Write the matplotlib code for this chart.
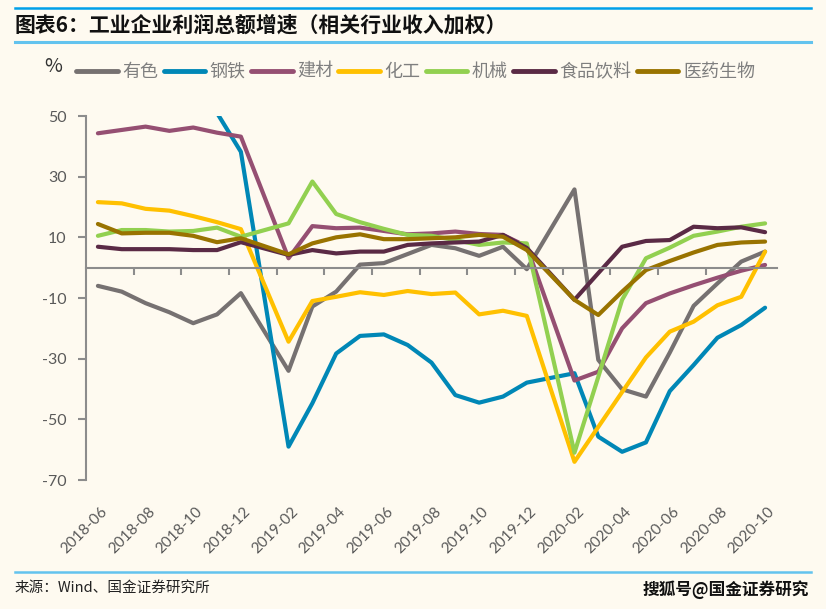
import matplotlib
matplotlib.use('Agg')
import matplotlib.pyplot as plt
import matplotlib.transforms as mtransforms
from matplotlib.lines import Line2D

plt.rcParams['font.family'] = ['Noto Sans CJK SC', 'DejaVu Sans']
plt.rcParams['axes.unicode_minus'] = False

# months with data (January figures are not published separately)
months = [
    '2018-06', '2018-07', '2018-08', '2018-09', '2018-10', '2018-11', '2018-12',
    '2019-02', '2019-03', '2019-04', '2019-05', '2019-06', '2019-07', '2019-08',
    '2019-09', '2019-10', '2019-11', '2019-12',
    '2020-02', '2020-03', '2020-04', '2020-05', '2020-06', '2020-07', '2020-08',
    '2020-09', '2020-10',
]

tick_labels = [
    '2018-06', '2018-08', '2018-10', '2018-12', '2019-02', '2019-04', '2019-06',
    '2019-08', '2019-10', '2019-12', '2020-02', '2020-04', '2020-06', '2020-08',
    '2020-10',
]

youse = [-6.0, -7.9, -11.7, -14.7, -18.3, -15.4, -8.4,
         -34.0, -12.8, -7.9, 1.0, 1.5, 4.5, 7.5, 6.4, 3.9, 6.9, -0.5,
         25.8, -30.4, -40.1, -42.5, -28.0, -12.6, -5.2, 2.0, 5.3]
gangtie = [95.0, 90.0, 85.0, 78.0, 68.0, 51.0, 38.2,
           -59.0, -44.7, -28.3, -22.5, -22.0, -25.5, -31.3, -42.0, -44.5, -42.5, -37.9,
           -34.8, -55.7, -60.7, -57.6, -40.7, -32.1, -23.1, -18.9, -13.2]
jiancai = [44.3, 45.4, 46.5, 45.1, 46.2, 44.5, 43.2,
           3.1, 13.7, 13.0, 13.2, 12.1, 11.0, 11.3, 11.9, 11.1, 10.8, 7.0,
           -37.2, -34.3, -20.0, -11.7, -8.5, -5.8, -3.3, -1.0, 0.9]
huagong = [21.6, 21.2, 19.4, 18.8, 17.0, 15.0, 12.7,
           -24.4, -11.0, -9.6, -8.1, -9.0, -7.7, -8.7, -8.2, -15.4, -14.2, -15.9,
           -64.0, -52.5, -41.0, -29.6, -21.1, -17.8, -12.4, -9.6, 5.3]
jixie = [10.5, 12.4, 12.4, 11.9, 12.1, 13.2, 10.2,
         14.6, 28.4, 17.7, 15.0, 12.8, 10.8, 10.5, 9.1, 7.5, 8.3, 8.0,
         -61.0, -36.0, -10.6, 3.1, 6.6, 10.5, 11.9, 13.5, 14.6]
shipin = [6.9, 6.1, 6.1, 6.1, 5.8, 5.8, 8.4,
          4.2, 5.8, 4.7, 5.3, 5.3, 7.5, 8.0, 8.3, 8.6, 10.8, 6.5,
          -10.6, -1.8, 6.9, 8.8, 9.1, 13.5, 13.0, 13.3, 11.7]
yiyao = [14.4, 11.3, 11.5, 11.5, 10.5, 8.4, 9.7,
         4.4, 8.0, 10.0, 11.0, 9.4, 9.4, 9.7, 10.0, 10.8, 10.2, 5.8,
         -10.6, -15.6, -7.9, -0.8, 2.2, 5.0, 7.5, 8.3, 8.6]

series_names = ['有色', '钢铁', '建材', '化工', '机械', '食品饮料', '医药生物']
series_values = [youse, gangtie, jiancai, huagong, jixie, shipin, yiyao]
series_colors = ['#767171', '#0087B6', '#954F72', '#FFC000', '#92D050', '#5A2A45', '#997300']

BG = '#FEFAF0'
GRID_GRAY = '#8C8C8C'
TEXT_GRAY = '#595959'


def month_pos(label):
    # category position counted in months from the first month
    y0, m0 = map(int, months[0].split('-'))
    y, m = map(int, label.split('-'))
    return (y - y0) * 12 + (m - m0)


def plot_profit_growth():
    W, H = 826, 609
    fig = plt.figure(figsize=(W / 100, H / 100), dpi=100, facecolor=BG)
    ax = fig.add_axes([86 / W, 1 - 480 / H, (777 - 86) / W, (480 - 116) / H])
    ax.set_facecolor(BG)

    x = [month_pos(m) for m in months]
    for name, vals, col in zip(series_names, series_values, series_colors):
        ax.plot(x, vals, color=col, lw=3.0, label=name,
                solid_joinstyle='round', solid_capstyle='round')

    n_cat = month_pos(months[-1]) + 1
    ax.set_xlim(-0.5, n_cat - 0.5)
    ax.set_ylim(-70, 50)

    for s in ['top', 'right']:
        ax.spines[s].set_visible(False)
    ax.spines['left'].set_color(GRID_GRAY)
    ax.spines['left'].set_linewidth(1.5)
    ax.spines['bottom'].set_position(('data', 0))
    ax.spines['bottom'].set_color(GRID_GRAY)
    ax.spines['bottom'].set_linewidth(1.5)

    ax.set_yticks(range(-70, 51, 20))
    ax.tick_params(axis='y', direction='out', length=6, width=1.5, color=GRID_GRAY,
                   labelsize=11.5, labelcolor=TEXT_GRAY, pad=8)
    for lab in ax.get_yticklabels():
        lab.set_family(['Lato', 'DejaVu Sans'])

    ax.set_xticks([i + 0.5 for i in range(1, 26, 2)])
    ax.tick_params(axis='x', direction='out', length=5, width=1.5, color=GRID_GRAY,
                   labelbottom=False)

    trans = mtransforms.blended_transform_factory(ax.transData, ax.transAxes)
    for lab in tick_labels:
        ax.text(month_pos(lab) + 0.1, -0.068, lab, transform=trans, rotation=45,
                rotation_mode='anchor', ha='right', va='top', fontsize=11,
                color=TEXT_GRAY, family=['Lato', 'DejaVu Sans'])

    leg = ax.legend(loc='center', bbox_to_anchor=(0.503, 1 - 72 / H),
                    bbox_transform=fig.transFigure, ncol=7, frameon=False,
                    fontsize=13, handlelength=2.3, handletextpad=0.25,
                    columnspacing=0.3, labelcolor='#7F7F7F')
    for h in leg.legend_handles:
        h.set_linewidth(3.5)

    fig.text(53 / W, 1 - 66 / H, '%', fontsize=14, ha='center', va='center', color='#333333')

    # header and footer rules
    fig.add_artist(Line2D([15 / W, 811 / W], [1 - 8 / H] * 2, color='#00A0E9', lw=1.8))
    fig.add_artist(Line2D([15 / W, 811 / W], [1 - 42 / H] * 2, color='#63C3EE', lw=2.2))
    fig.add_artist(Line2D([15 / W, 811 / W], [1 - 572 / H] * 2, color='#63C3EE', lw=1.8))

    fig.text(15 / W, 1 - 25 / H, '图表6：工业企业利润总额增速（相关行业收入加权）',
             fontsize=15, fontweight='bold', ha='left', va='center', color='#111111')
    fig.text(15 / W, 1 - 588 / H, '来源：Wind、国金证券研究所',
             fontsize=10.5, ha='left', va='center', color='#222222')
    fig.text(809 / W, 1 - 590 / H, '搜狐号@国金证券研究',
             fontsize=12, fontweight='bold', ha='right', va='center', color='#111111')

    fig.savefig('out.png', dpi=100, facecolor=BG)
    plt.close(fig)


if __name__ == "__main__":
    plot_profit_growth()
